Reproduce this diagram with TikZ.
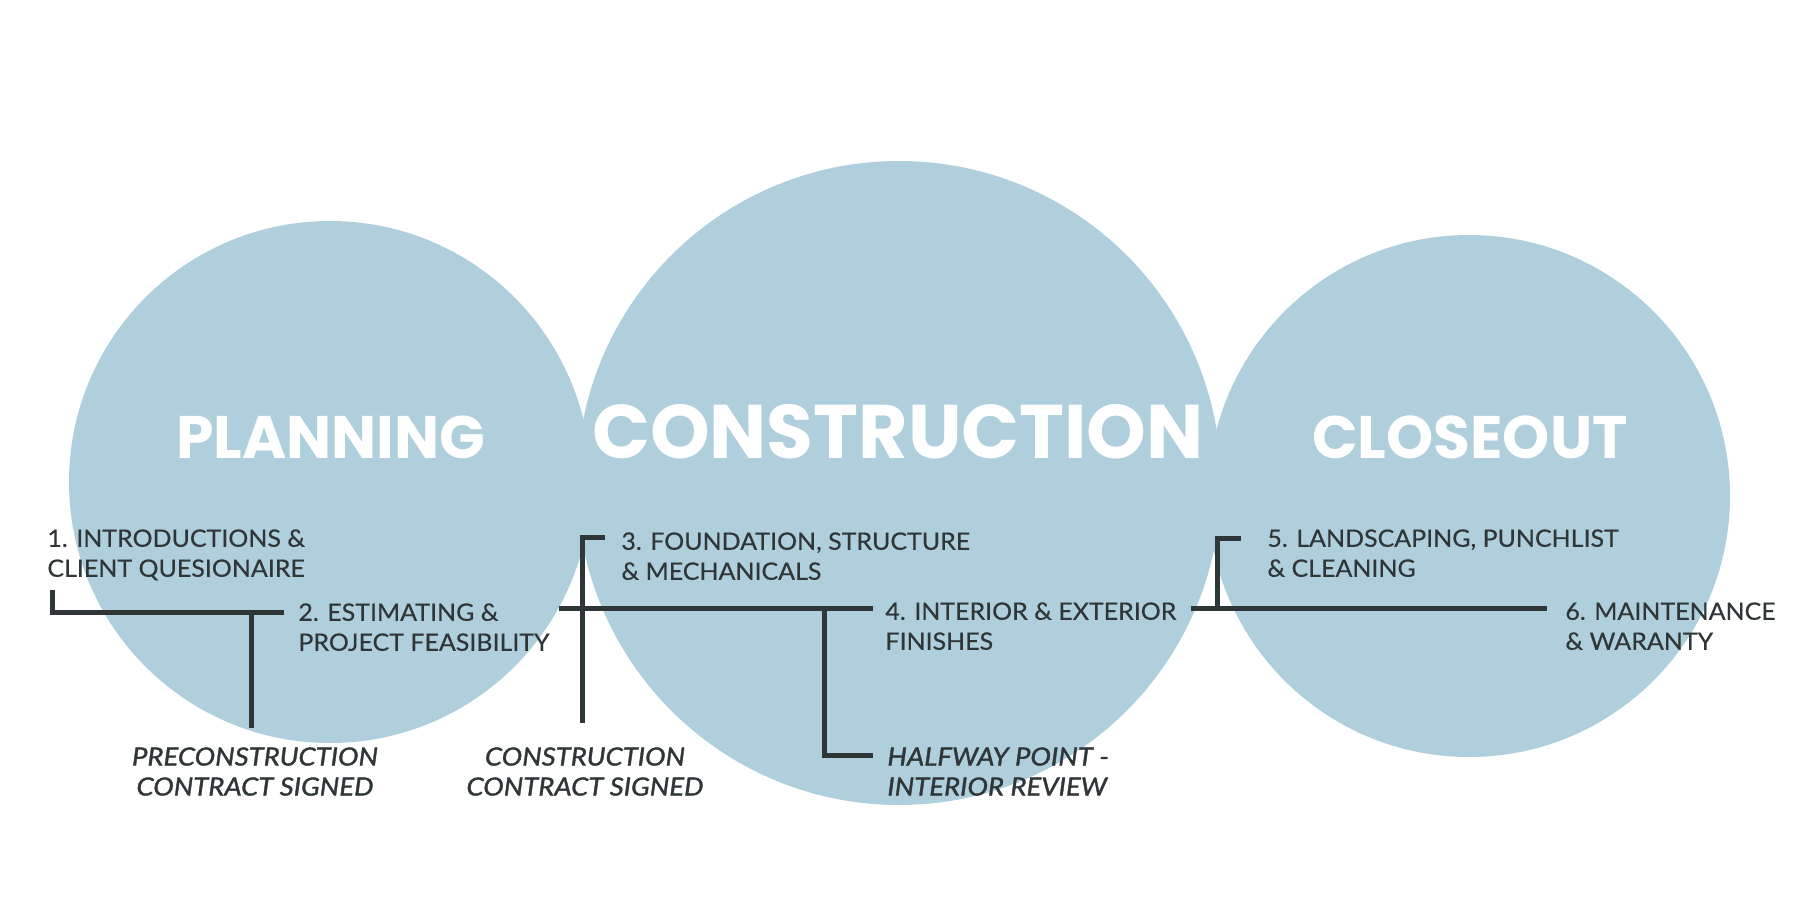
\documentclass[tikz,border=0pt]{standalone}
\usepackage{fontspec}
\setmainfont{Lato}
\newfontfamily\titlefont{Poppins}
\newfontfamily\stagefont{Lato}[FakeStretch=1.04, FakeBold=0.4]
\newfontfamily\notefont{Lato}[FakeStretch=1.1, FakeBold=1.4]
\definecolor{phasebg}{HTML}{AFCFDC}
\definecolor{inkgray}{HTML}{2F3638}
\usetikzlibrary{positioning}

\begin{document}
\begin{tikzpicture}[
  x=0.5pt, y=-0.5pt,
  phase/.style={font=\titlefont\bfseries\fontsize{30}{30}\selectfont, text=white,
                inner sep=0pt, anchor=base},
  stage/.style={font=\stagefont\fontsize{12}{15}\selectfont, text=inkgray, align=left,
                inner sep=0pt, anchor=north west},
  milestone/.style={stage, font=\notefont\itshape\fontsize{12.5}{15}\selectfont},
  rail/.style={draw=inkgray, line width=2.5pt}
]
\useasboundingbox (0,0) rectangle (1800,900);

% phase circles
\fill[phasebg] (330,482) circle [radius=130.5pt];
\fill[phasebg] (899,483) circle [radius=161pt];
\fill[phasebg] (1469,496) circle [radius=130.5pt];

\node[phase] (planning) at (331,458) {PLANNING};
\node[phase, font=\titlefont\bfseries\fontsize{38}{38}\selectfont] (construction) at (898,458) {CONSTRUCTION};
\node[phase] (closeout) at (1470,458) {CLOSEOUT};

% steps
\node[stage] (s1) at (47,529) {1. INTRODUCTIONS \&\\CLIENT QUESIONAIRE};
\node[stage] (s2) at (298,603) {2. ESTIMATING \&\\PROJECT FEASIBILITY};
\node[stage] (s3) at (621,532) {3. FOUNDATION, STRUCTURE\\\& MECHANICALS};
\node[stage] (s4) at (885,602) {4. INTERIOR \& EXTERIOR\\FINISHES};
\node[stage] (s5) at (1267,529) {5. LANDSCAPING, PUNCHLIST\\\& CLEANING};
\node[stage] (s6) at (1565,602) {6. MAINTENANCE\\\& WARANTY};

% milestones
\node[milestone, align=center, anchor=north] (m1) at (255,747) {PRECONSTRUCTION\\CONTRACT SIGNED};
\node[milestone, align=center, anchor=north] (m2) at (585,747) {CONSTRUCTION\\CONTRACT SIGNED};
\node[milestone] (m3) at (887,747) {HALFWAY POINT -\\INTERIOR REVIEW};

% timeline
\coordinate (a0) at (52,590);
\coordinate (a1) at (284,612);
\coordinate (a2) at (251,612);
\coordinate (a3) at (251,728);
\draw[rail] (a0) |- (a1);
\draw[rail] (a2) -- (a3);

\coordinate (b0) at (559,608);
\coordinate (b1) at (873,608);
\coordinate (b2) at (605,537);
\coordinate (b3) at (582,723);
\coordinate (b4) at (824,608);
\coordinate (b5) at (873,755);
\draw[rail] (b0) -- (b1);
\draw[rail] (b2) -| (b3);
\draw[rail] (b4) |- (b5);

\coordinate (c0) at (1191,608);
\coordinate (c1) at (1547,608);
\coordinate (c2) at (1217,608);
\coordinate (c3) at (1241,538);
\draw[rail] (c0) -- (c1);
\draw[rail] (c2) |- (c3);
\end{tikzpicture}
\end{document}
